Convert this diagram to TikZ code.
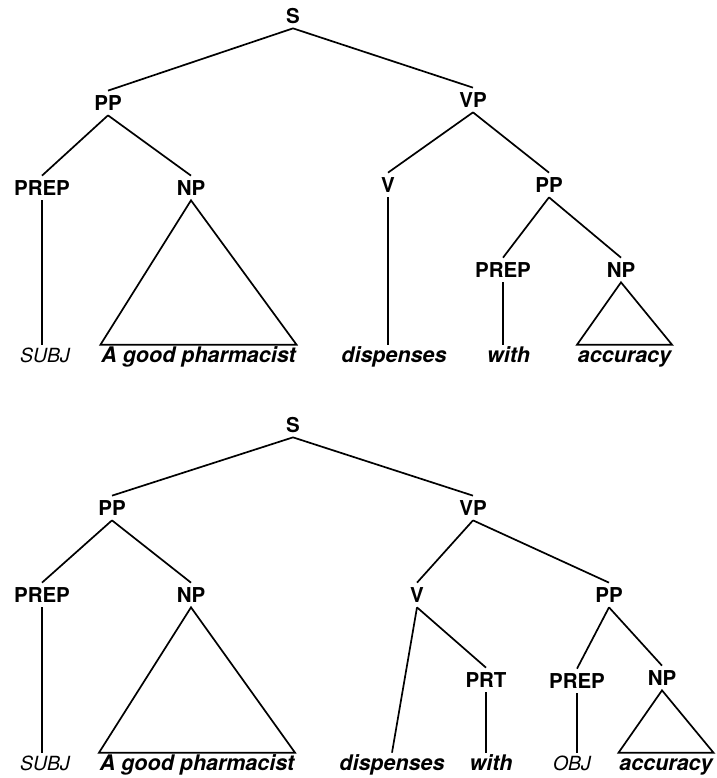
\documentclass[tikz,border=0pt]{standalone}
\usepackage{fontspec}
\setmainfont{TeX Gyre Heros}
\usetikzlibrary{positioning,calc}

\begin{document}
\begin{tikzpicture}[x=1pt, y=-1pt, line width=1.7pt,
	cat/.style={font=\fontsize{20.5}{24}\selectfont\bfseries, inner sep=4pt, text height=15pt, text depth=0pt},
	leaf/.style={font=\fontsize{21.5}{24}\selectfont\bfseries\itshape, inner xsep=0pt, inner ysep=1pt, text height=15.5pt, text depth=4.5pt},
	role/.style={font=\fontsize{19.5}{22}\selectfont\itshape, inner xsep=0pt, inner ysep=1pt, text height=15.5pt, text depth=4.5pt}]
	\useasboundingbox (0,0) rectangle (716,778);
	\begin{scope}
		\node[cat] (s1)    at (293, 16)  {S};
		\node[cat] (pp1)   at (108, 103) {PP};
		\node[cat] (vp1)   at (473, 100) {VP};
		\node[cat] (prep1) at (42, 188)  {PREP};
		\node[cat] (np1)   at (191, 188) {NP};
		\node[cat] (v1)    at (388, 185) {V};
		\node[cat] (pp1b)  at (549, 185) {PP};
		\node[cat] (prep1b) at (503, 270) {PREP};
		\node[cat] (np1b)  at (621, 270) {NP};

		\node[role] (subj1)  at (45, 356.5)    {SUBJ};
		\node[leaf] (pharm1) at (198.5, 356.5) {A good pharmacist};
		\node[leaf] (disp1)  at (394, 356.5)   {dispenses};
		\node[leaf] (with1)  at (508.5, 356.5) {with};
		\node[leaf] (acc1)   at (624.5, 356.5) {accuracy};

		\draw (s1.south) to (pp1.north);
		\draw (s1.south) to (vp1.north);
		\draw (pp1.south) to (prep1.north);
		\draw (pp1.south) to (np1.north);
		\draw (vp1.south) to (v1.north);
		\draw (vp1.south) to (pp1b.north);
		\draw (pp1b.south) to (prep1b.north);
		\draw (pp1b.south) to (np1b.north);

		\draw (prep1.south) to (prep1.south |- subj1.north);
		\draw (v1.south) to (v1.south |- disp1.north);
		\draw (prep1b.south) to (prep1b.south |- with1.north);
		\draw (np1.south) -- (pharm1.north west) -- (pharm1.north east) -- cycle;
		\draw (np1b.south) -- (acc1.north west) -- (acc1.north east) -- cycle;
	\end{scope}

	\begin{scope}
		\node[cat] (s2)    at (293, 425) {S};
		\node[cat] (pp2)   at (112, 508) {PP};
		\node[cat] (vp2)   at (473, 508) {VP};
		\node[cat] (prep2) at (42, 595)  {PREP};
		\node[cat] (np2)   at (191, 595) {NP};
		\node[cat] (v2)    at (417, 595) {V};
		\node[cat] (pp2b)  at (609, 595) {PP};
		\node[cat] (prt2)  at (486, 680) {PRT};
		\node[cat] (prep2b) at (577, 681) {PREP};
		\node[cat] (np2b)  at (662, 678) {NP};

		\node[role] (subj2)  at (45, 764.5)  {SUBJ};
		\node[leaf] (pharm2) at (197, 764.5) {A good pharmacist};
		\node[leaf] (disp2)  at (392, 764.5) {dispenses};
		\node[leaf] (with2)  at (491, 764.5) {with};
		\node[role] (obj2)   at (572, 764.5) {OBJ};
		\node[leaf] (acc2)   at (666, 764.5) {accuracy};

		\draw (s2.south) to (pp2.north);
		\draw (s2.south) to (vp2.north);
		\draw (pp2.south) to (prep2.north);
		\draw (pp2.south) to (np2.north);
		\draw (vp2.south) to (v2.north);
		\draw (vp2.south) to (pp2b.north);
		\draw (v2.south) to (disp2.north);
		\draw (v2.south) to (prt2.north);
		\draw (pp2b.south) to (prep2b.north);
		\draw (pp2b.south) to (np2b.north);

		\draw (prep2.south) to (prep2.south |- subj2.north);
		\draw (prt2.south) to (prt2.south |- with2.north);
		\draw (prep2b.south) to (prep2b.south |- obj2.north);
		\draw (np2.south) -- (pharm2.north west) -- (pharm2.north east) -- cycle;
		\draw (np2b.south) -- (acc2.north west) -- (acc2.north east) -- cycle;
	\end{scope}
\end{tikzpicture}
\end{document}
